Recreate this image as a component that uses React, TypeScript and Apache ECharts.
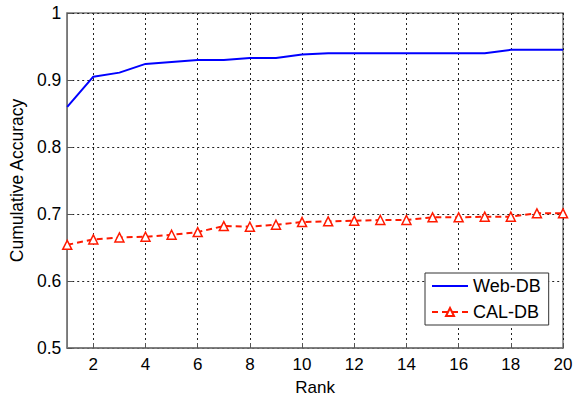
import React, { useEffect, useRef } from "react";
import * as echarts from "echarts";

const ranks = ["1","2","3","4","5","6","7","8","9","10","11","12","13","14","15","16","17","18","19","20"];
const webDB = [0.860, 0.905, 0.911, 0.924, 0.927, 0.930, 0.930, 0.933, 0.933, 0.938, 0.940, 0.940, 0.940, 0.940, 0.940, 0.940, 0.940, 0.945, 0.945, 0.945];
const calDB = [0.654, 0.662, 0.665, 0.666, 0.669, 0.673, 0.682, 0.681, 0.684, 0.688, 0.689, 0.690, 0.691, 0.691, 0.695, 0.695, 0.696, 0.696, 0.701, 0.701];

const FONT = "Arial, 'Liberation Sans', sans-serif";

export default function App() {
  const ref = useRef<HTMLDivElement>(null);
  useEffect(() => {
    if (!ref.current) return;
    const chart = echarts.init(ref.current, null, { renderer: "svg" });
    const everyOther = (i: number) => i % 2 === 1;
    chart.setOption({
      animation: false,
      backgroundColor: "#fff",
      textStyle: { fontFamily: FONT },
      grid: {
        left: 67, right: 24, top: 13, bottom: 43,
        show: true, borderColor: "#777", borderWidth: 1.5, backgroundColor: "transparent",
      },
      legend: {
        orient: "vertical",
        left: 425, top: 273,
        width: 122,
        backgroundColor: "#fff",
        borderColor: "#333",
        borderWidth: 1,
        borderRadius: 0,
        padding: [4, 8, 4, 6],
        itemWidth: 36,
        itemHeight: 10,
        itemGap: 8,
        textStyle: { fontSize: 18, color: "#000", fontFamily: FONT },
        data: [
          { name: "Web-DB", itemStyle: { opacity: 0 } },
          { name: "CAL-DB" },
        ],
      },
      xAxis: {
        type: "category",
        data: ranks,
        boundaryGap: false,
        name: "Rank",
        nameLocation: "middle",
        nameGap: 31,
        nameTextStyle: { fontSize: 17, color: "#000", fontFamily: FONT },
        axisLine: { show: true, lineStyle: { color: "#777", width: 1.5 } },
        axisTick: { inside: true, length: 5, interval: everyOther, lineStyle: { color: "#555" } },
        axisLabel: { interval: everyOther, fontSize: 17, color: "#000", margin: 8, fontFamily: FONT },
        splitLine: { show: true, interval: everyOther, lineStyle: { color: "#222", type: [2, 3], width: 1 } },
      },
      yAxis: {
        type: "value",
        min: 0.5, max: 1, interval: 0.1,
        name: "Cumulative Accuracy",
        nameLocation: "middle",
        nameGap: 32,
        nameTextStyle: { fontSize: 17.5, color: "#000", fontFamily: FONT },
        axisLine: { show: true, lineStyle: { color: "#777", width: 1.5 } },
        axisTick: { show: true, inside: true, length: 5, lineStyle: { color: "#555" } },
        axisLabel: { fontSize: 17.5, color: "#000", margin: 6, fontFamily: FONT },
        splitLine: { show: true, lineStyle: { color: "#222", type: [2, 3], width: 1 } },
      },
      series: [
        {
          name: "Web-DB",
          type: "line",
          data: webDB,
          symbol: "none",
          lineStyle: { color: "#0000ff", width: 2 },
          itemStyle: { color: "#0000ff" },
        },
        {
          name: "CAL-DB",
          type: "line",
          data: calDB,
          symbol: "triangle",
          symbolSize: 9,
          lineStyle: { color: "#ff1a00", width: 2, type: [6, 4] },
          itemStyle: { color: "#fff", borderColor: "#ff1a00", borderWidth: 1.5 },
        },
      ],
    });
    return () => chart.dispose();
  }, []);
  return <div ref={ref} style={{ width: 587, height: 401, position: "absolute", left: 0, top: 0 }} />;
}
